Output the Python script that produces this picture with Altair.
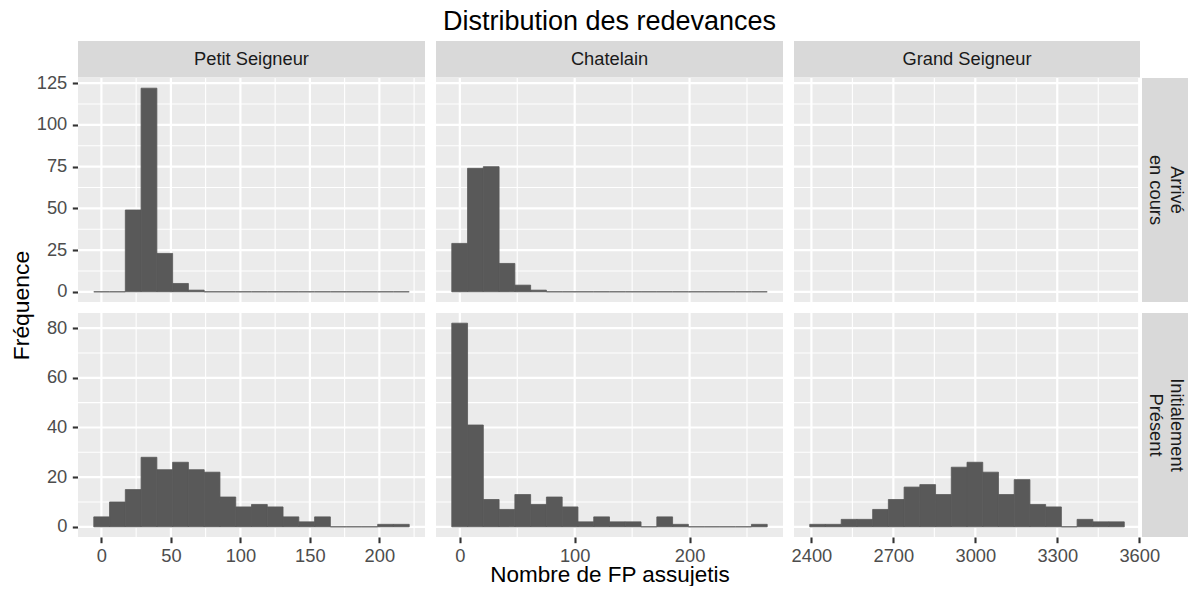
import altair as alt
import pandas as pd

FONT = "Liberation Sans"

# ---- data -------------------------------------------------------------
columns = ["Petit Seigneur", "Chatelain", "Grand Seigneur"]
rows = ["Arrivé\nen cours", "Initialement\nPrésent"]

bin_start = [-5.5, -7.0, 2393.9]
bin_width = [11.35, 13.73, 57.57]

counts_arrive_petit = [0, 0, 49, 122, 23, 5, 1, 0, 0, 0, 0, 0, 0, 0, 0, 0, 0, 0, 0, 0]
counts_arrive_chatelain = [29, 74, 75, 17, 4, 1, 0, 0, 0, 0, 0, 0, 0, 0, 0, 0, 0, 0, 0, 0]
counts_arrive_grand = []
counts_initial_petit = [4, 10, 15, 28, 23, 26, 23, 22, 12, 8, 9, 8, 4, 2, 4, 0, 0, 0, 1, 1]
counts_initial_chatelain = [82, 41, 11, 7, 13, 9, 12, 8, 2, 4, 2, 2, 0, 4, 1, 0, 0, 0, 0, 1]
counts_initial_grand = [1, 1, 3, 3, 7, 11, 16, 17, 13, 24, 26, 22, 13, 19, 9, 8, 0, 3, 2, 2]

x_domains = [[-16.85, 232.85], [-20.73, 281.33], [2336.3, 3602.8]]
x_major = [[0, 50, 100, 150, 200], [0, 100, 200], [2400, 2700, 3000, 3300, 3600]]
x_minor = [[25, 75, 125, 175, 225], [50, 150, 250], [2550, 2850, 3150, 3450]]
y_domains = [[-6.1, 128.1], [-4.1, 86.1]]
y_major = [[0, 25, 50, 75, 100, 125], [0, 20, 40, 60, 80]]
y_minor = [[12.5, 37.5, 62.5, 87.5, 112.5], [10, 30, 50, 70]]

title_text = "Distribution des redevances"
x_title = "Nombre de FP assujetis"
y_title = "Fréquence"

counts = [
    [counts_arrive_petit, counts_arrive_chatelain, counts_arrive_grand],
    [counts_initial_petit, counts_initial_chatelain, counts_initial_grand],
]

# ---- layout / style ------------------------------------------------------
PANEL_W = [347, 347, 346]
STRIP_H = 36.5
PANEL_H = 224
STRIP_GAP = 2
RSTRIP_W = 46
BG = "#EBEBEB"
STRIP_BG = "#D9D9D9"
BAR = "#595959"
LABEL_FS = 18.3
TITLE_FS = 22.9

one = pd.DataFrame({"a": [0]})


def axis_kwargs(pad):
    return dict(
        grid=False, domain=False, ticks=True, tickSize=5.7, tickWidth=2.1,
        tickColor="#333333", labelFont=FONT, labelFontSize=LABEL_FS,
        labelColor="#4D4D4D", labelPadding=pad, labelFlush=False, format="d",
        labelOverlap=False,
    )


def panel(r, c):
    pw = PANEL_W[c]
    top = STRIP_H + 0.5 if r == 0 else 0
    bottom = top + PANEL_H
    total_w = pw + STRIP_GAP + RSTRIP_W if c == 2 else pw

    xs = alt.Scale(domain=x_domains[c], nice=False, zero=False, range=[0, pw])
    ys = alt.Scale(domain=y_domains[r], nice=False, zero=False, range=[bottom, top])

    if r == 1:
        kw = axis_kwargs(5)
        kw["values"] = x_major[c]
        if c == 1:
            kw.update(titleFont=FONT, titleFontSize=22.5, titleFontWeight="normal",
                      titleColor="black", titlePadding=-1.5)
        xaxis = alt.Axis(**kw)
    else:
        xaxis = None
    if c == 0:
        kw = axis_kwargs(5.5)
        kw["values"] = y_major[r]
        kw["minExtent"] = 42
        if r == 0:
            kw.update(titleFont=FONT, titleFontSize=TITLE_FS, titleFontWeight="normal",
                      titleColor="black", titleAngle=270, titleAlign="center",
                      titleBaseline="middle", titleX=-56.5, titleY=264)
        yaxis = alt.Axis(**kw)
    else:
        yaxis = None

    xt = x_title if (r == 1 and c == 1) else None
    yt = y_title if (r == 0 and c == 0) else None

    def X(field):
        return alt.X(field, type="quantitative", scale=xs, axis=xaxis, title=xt)

    def Y(field):
        return alt.Y(field, type="quantitative", scale=ys, axis=yaxis, title=yt)

    layers = []
    layers.append(
        alt.Chart(one).mark_rect(color=BG).encode(
            x=alt.value(0), x2=alt.value(pw), y=alt.value(top), y2=alt.value(bottom)
        )
    )
    # grid lines
    layers.append(
        alt.Chart(pd.DataFrame({"v": x_minor[c]})).mark_rule(color="white", strokeWidth=1.1).encode(
            x=X("v"), y=alt.value(top), y2=alt.value(bottom)
        )
    )
    layers.append(
        alt.Chart(pd.DataFrame({"v": y_minor[r]})).mark_rule(color="white", strokeWidth=1.1).encode(
            y=Y("v"), x=alt.value(0), x2=alt.value(pw)
        )
    )
    layers.append(
        alt.Chart(pd.DataFrame({"v": x_major[c]})).mark_rule(color="white", strokeWidth=2.2).encode(
            x=X("v"), y=alt.value(top), y2=alt.value(bottom)
        )
    )
    layers.append(
        alt.Chart(pd.DataFrame({"v": y_major[r]})).mark_rule(color="white", strokeWidth=2.2).encode(
            y=Y("v"), x=alt.value(0), x2=alt.value(pw)
        )
    )
    # histogram bars
    cnt = counts[r][c]
    if len(cnt) > 0:
        df = pd.DataFrame({
            "x0": [bin_start[c] + i * bin_width[c] for i in range(len(cnt))],
            "x1": [bin_start[c] + (i + 1) * bin_width[c] for i in range(len(cnt))],
            "n": cnt,
            "base": [0] * len(cnt),
        })
        layers.append(
            alt.Chart(df).mark_rect(color=BAR, stroke=BAR, strokeWidth=0.8).encode(
                x=X("x0"), x2="x1:Q", y=Y("n"), y2="base:Q"
            )
        )
    # column strip
    if r == 0:
        layers.append(
            alt.Chart(one).mark_rect(color=STRIP_BG).encode(
                x=alt.value(0), x2=alt.value(pw), y=alt.value(0), y2=alt.value(STRIP_H)
            )
        )
        layers.append(
            alt.Chart(pd.DataFrame({"t": [columns[c]]})).mark_text(
                font=FONT, fontSize=LABEL_FS, color="#1A1A1A", align="center", baseline="middle"
            ).encode(text="t:N", x=alt.value(pw / 2), y=alt.value(STRIP_H / 2 + 0.5))
        )
    # row strip
    if c == 2:
        sx = pw + STRIP_GAP
        layers.append(
            alt.Chart(one).mark_rect(color=STRIP_BG).encode(
                x=alt.value(sx), x2=alt.value(sx + RSTRIP_W), y=alt.value(top), y2=alt.value(bottom)
            )
        )
        layers.append(
            alt.Chart(pd.DataFrame({"t": [rows[r]]})).mark_text(
                font=FONT, fontSize=LABEL_FS, color="#1A1A1A", align="center", baseline="middle",
                angle=90, lineBreak="\n", lineHeight=21
            ).encode(text="t:N", x=alt.value(sx + 34), y=alt.value((top + bottom) / 2))
        )

    ch = alt.layer(*layers).properties(width=total_w, height=bottom)
    if r == 0 and c == 1:
        ch = ch.properties(title=alt.Title(
            title_text, font=FONT, fontSize=27, fontWeight="normal", color="black",
            anchor="middle", baseline="alphabetic", offset=-16
        ))
    return ch


panels = [panel(r, c) for r in range(2) for c in range(3)]

chart = alt.concat(
    *panels, columns=3, spacing=11, bounds="flush", align="each"
).configure_view(stroke=None).properties(
    padding={"left": 2, "top": 0, "right": 0, "bottom": 0}
)

chart.save("out.html", embed_options={"renderer": "svg", "actions": False})
